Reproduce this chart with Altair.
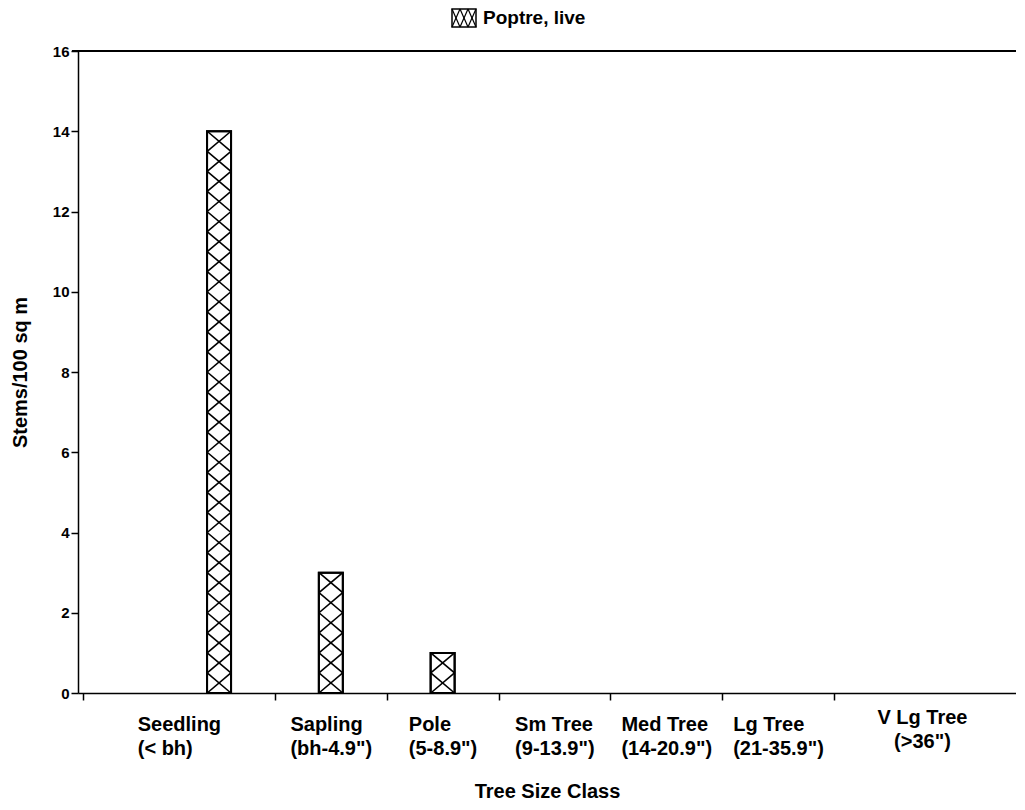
import altair as alt
import pandas as pd

# ---------------- data ----------------
categories = ["Seedling", "Sapling", "Pole", "Sm Tree", "Med Tree", "Lg Tree", "V Lg Tree"]
size_ranges = ["(< bh)", "(bh-4.9\")", "(5-8.9\")", "(9-13.9\")", "(14-20.9\")", "(21-35.9\")", "(>36\")"]
values = [14, 3, 1, 0, 0, 0, 0]
series_name = "Poptre, live"
y_tick_values = [0, 2, 4, 6, 8, 10, 12, 14, 16]
x_title = "Tree Size Class"
y_title = "Stems/100 sq m"

# ---------------- layout ----------------
W, H = 938, 642
X_MIN, X_MAX = -0.717, 7.584
BAR_PX = 24
HATCH_STEP = 0.5
FONT = "Liberation Sans"
LABEL_FS = 20
PX_PER_UNIT = W / (X_MAX - X_MIN)

# Liberation Sans Bold advance widths (per 1000 em) for measuring label blocks
ADV = {"S": 667, "e": 556, "d": 611, "l": 278, "i": 278, "n": 611, "g": 611, "(": 333,
       "<": 584, " ": 278, "b": 611, "h": 611, ")": 333, "a": 556, "p": 611, "-": 333,
       ".": 278, "\"": 474, "P": 667, "o": 611, "m": 889, "T": 611, "r": 389, "M": 833,
       "L": 611, ">": 584, "V": 667}


def text_px(s, fs):
    return sum(ADV.get(ch, 556) for ch in s) * fs / 1000


n = len(categories)
centers = [i + 0.5 for i in range(n)]
edges = [X_MIN] + list(range(1, n)) + [X_MAX]
mid = [(edges[i] + edges[i + 1]) / 2 for i in range(n)]
half = BAR_PX / 2 / PX_PER_UNIT

label_left = []
for i in range(n):
    w = max(text_px(categories[i], LABEL_FS), text_px(size_ranges[i], LABEL_FS))
    label_left.append(mid[i] - w / 2 / PX_PER_UNIT)

bars_df = pd.DataFrame({"category": categories, "value": values, "pos": centers})

hatch_rows = []
for c, v in zip(centers, values):
    cells = int(round(v / HATCH_STEP))
    for k in range(cells):
        y0, y1 = k * HATCH_STEP, (k + 1) * HATCH_STEP
        hatch_rows.append({"xa": c - half, "xb": c + half, "ya": y0, "yb": y1})
        hatch_rows.append({"xa": c + half, "xb": c - half, "ya": y0, "yb": y1})
hatch_df = pd.DataFrame(hatch_rows)

labels_df = pd.DataFrame({
    "category": categories,
    "label": [f"{a}\n{b}" for a, b in zip(categories, size_ranges)],
    "lx": label_left,
    "mx": mid,
})

xs = alt.Scale(domain=[X_MIN, X_MAX], nice=False, zero=False)
ys = alt.Scale(domain=[0, 16], nice=False)

x_axis = alt.Axis(values=[X_MIN] + list(range(1, n)), labels=False, tickSize=7, tickColor="black",
                  tickWidth=1.5, domainColor="black", domainWidth=1.5, grid=False,
                  title=x_title, titleFontSize=20, titleFontWeight="bold", titleColor="black",
                  titleFont=FONT, titleY=104, titleBaseline="alphabetic")
y_axis = alt.Axis(values=y_tick_values, tickSize=7, tickColor="black", tickWidth=1.5,
                  domainColor="black", domainWidth=1.5, grid=False, labelFontSize=15,
                  labelFontWeight="bold", labelColor="black", labelFont=FONT, labelPadding=2,
                  title=y_title, titleFontSize=20, titleFontWeight="bold", titleColor="black",
                  titleFont=FONT, titleX=-58, titleY=H / 2, titleAngle=270,
                  titleAlign="center", titleBaseline="middle")

X = lambda f: alt.X(f, scale=xs, axis=x_axis)
Y = lambda f: alt.Y(f, scale=ys, axis=y_axis)

bars = alt.Chart(bars_df).transform_filter(alt.datum.value > 0).mark_bar(
    orient="vertical", width=BAR_PX, fill="white", stroke="black", strokeWidth=2).encode(
    x=X("pos:Q"), y=Y("value:Q"))

hatch = alt.Chart(hatch_df).mark_rule(color="black", strokeWidth=1.6).encode(
    x=X("xa:Q"), x2="xb:Q", y=Y("ya:Q"), y2="yb:Q")

outline = alt.Chart(bars_df).transform_filter(alt.datum.value > 0).mark_bar(
    orient="vertical", width=BAR_PX, fillOpacity=0, stroke="black", strokeWidth=2).encode(
    x=X("pos:Q"), y=Y("value:Q"))

label_common = dict(baseline="alphabetic", fontSize=LABEL_FS, fontWeight="bold", lineBreak="\n",
                    lineHeight=24, font=FONT, color="black")
labels_main = alt.Chart(labels_df).transform_filter(
    alt.datum.category != "V Lg Tree").mark_text(align="left", **label_common).encode(
    x=X("lx:Q"), y=alt.value(H + 38), text="label:N")
labels_last = alt.Chart(labels_df).transform_filter(
    alt.datum.category == "V Lg Tree").mark_text(align="center", **label_common).encode(
    x=X("mx:Q"), y=alt.value(H + 31), text="label:N")

top_line = alt.Chart(bars_df).mark_rule(color="black", strokeWidth=1.5).encode(
    x=alt.value(-6), x2=alt.value(W), y=alt.value(0))

# legend (hatched swatch + text)
one = pd.DataFrame({"a": [0]})
LX0, LY0, LW, LH = 374, -42, 24, 18
legend_layers = [
    alt.Chart(one).mark_rect(fill="white", stroke="black", strokeWidth=1.5).encode(
        x=alt.value(LX0), x2=alt.value(LX0 + LW), y=alt.value(LY0), y2=alt.value(LY0 + LH))
]
cell = LW / 3
for k in range(3):
    xa, xb = LX0 + k * cell, LX0 + (k + 1) * cell
    legend_layers.append(alt.Chart(one).mark_rule(color="black", strokeWidth=1.2).encode(
        x=alt.value(xa), x2=alt.value(xb), y=alt.value(LY0), y2=alt.value(LY0 + LH)))
    legend_layers.append(alt.Chart(one).mark_rule(color="black", strokeWidth=1.2).encode(
        x=alt.value(xb), x2=alt.value(xa), y=alt.value(LY0), y2=alt.value(LY0 + LH)))
legend_layers.append(alt.Chart(one).mark_text(align="left", baseline="middle", fontSize=19,
                                              fontWeight="bold", font=FONT, color="black").encode(
    x=alt.value(LX0 + LW + 7), y=alt.value(LY0 + LH / 2), text=alt.value(series_name)))

chart = alt.layer(bars, hatch, outline, labels_main, labels_last, top_line, *legend_layers).properties(
    width=W, height=H,
    autosize=alt.AutoSizeParams(type="none"),
    padding={"left": 70, "top": 43, "right": 0, "bottom": 108},
).configure_view(stroke=None).configure(font=FONT)

chart.save("out.html", embed_options={"renderer": "svg", "actions": False})
